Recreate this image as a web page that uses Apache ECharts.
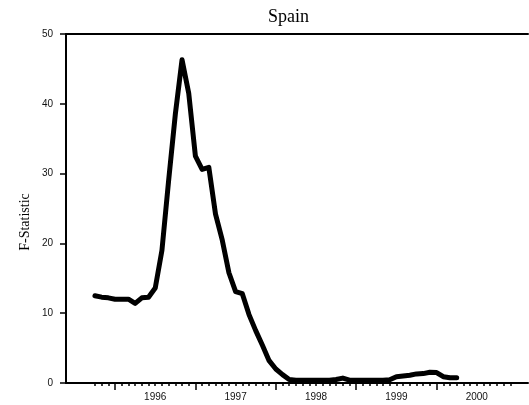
<!DOCTYPE html>
<html>
<head>
<meta charset="utf-8">
<script src="https://cdn.jsdelivr.net/npm/echarts@6/dist/echarts.min.js"></script>
<style>
  html, body { margin: 0; padding: 0; background: #fff; }
  #chart { width: 529px; height: 405px; }
</style>
</head>
<body>
<div id="chart"></div>
<script>
// monthly F-statistic, Oct 1995 .. Apr 2000
var months = [
  '1995-10', '1995-11', '1995-12',
  '1996-01', '1996-02', '1996-03', '1996-04', '1996-05', '1996-06',
  '1996-07', '1996-08', '1996-09', '1996-10', '1996-11', '1996-12',
  '1997-01', '1997-02', '1997-03', '1997-04', '1997-05', '1997-06',
  '1997-07', '1997-08', '1997-09', '1997-10', '1997-11', '1997-12',
  '1998-01', '1998-02', '1998-03', '1998-04', '1998-05', '1998-06',
  '1998-07', '1998-08', '1998-09', '1998-10', '1998-11', '1998-12',
  '1999-01', '1999-02', '1999-03', '1999-04', '1999-05', '1999-06',
  '1999-07', '1999-08', '1999-09', '1999-10', '1999-11', '1999-12',
  '2000-01', '2000-02', '2000-03', '2000-04'
];
var fStat = [
  12.5, 12.3, 12.2,
  12.0, 12.0, 12.0, 11.4, 12.2, 12.3,
  13.6, 19.0, 29.0, 38.5, 46.3, 41.5,
  32.5, 30.6, 30.9, 24.2, 20.5, 15.8,
  13.1, 12.8, 9.8, 7.5, 5.4, 3.2,
  2.0, 1.2, 0.5, 0.4, 0.4, 0.4,
  0.4, 0.4, 0.4, 0.5, 0.7, 0.4,
  0.4, 0.4, 0.4, 0.4, 0.4, 0.45,
  0.9, 1.0, 1.1, 1.3, 1.35, 1.55,
  1.5, 0.9, 0.75, 0.75
];
var yearTicks = [1996, 1997, 1998, 1999, 2000];
var yearLabels = ['1996', '1997', '1998', '1999', '2000'];
var yTicks = [0, 10, 20, 30, 40, 50];

var X_MIN = 1995.39, X_MAX = 2001.137;

function toYear(s) {
  var p = s.split('-');
  return Number(p[0]) + (Number(p[1]) - 1) / 12;
}

var points = [];
for (var i = 0; i < months.length; i++) {
  points.push([toYear(months[i]), fStat[i]]);
}

// labels sit in the middle of each year
var labelPos = yearLabels.map(function (y) { return Number(y) + 0.5; });

// small monthly ticks, Oct 1995 .. Dec 2000
var monthTicks = [];
for (var m = -3; m < 60; m++) {
  if (m % 12 !== 0) monthTicks.push(1996 + m / 12);
}

var chart = echarts.init(document.getElementById('chart'));
chart.setOption({
  animation: false,
  grid: {
    left: 66,
    right: 1,
    top: 34,
    bottom: 22,
    containLabel: false,
    outerBoundsMode: 'none'
  },
  xAxis: [{
    type: 'value',
    position: 'bottom',
    min: X_MIN,
    max: X_MAX,
    axisLine: { lineStyle: { color: '#000', width: 2 } },
    axisTick: {
      customValues: yearTicks,
      length: 7,
      lineStyle: { color: '#000', width: 1.5 }
    },
    axisLabel: {
      customValues: labelPos,
      formatter: function (v) { return String(Math.floor(v)); },
      fontFamily: 'Liberation Sans',
      fontSize: 10,
      color: '#111',
      margin: 9
    },
    splitLine: { show: false }
  }, {
    type: 'value',
    position: 'bottom',
    min: X_MIN,
    max: X_MAX,
    axisLine: { show: false },
    axisTick: {
      customValues: monthTicks,
      length: 3,
      lineStyle: { color: '#000', width: 1.5 }
    },
    axisLabel: { show: false },
    splitLine: { show: false }
  }, {
    type: 'value',
    position: 'top',
    min: X_MIN,
    max: X_MAX,
    axisLine: { show: true, lineStyle: { color: '#000', width: 2 } },
    axisTick: { show: false },
    axisLabel: { show: false },
    splitLine: { show: false }
  }],
  yAxis: {
    type: 'value',
    min: yTicks[0],
    max: yTicks[yTicks.length - 1],
    interval: 10,
    axisLine: { show: true, lineStyle: { color: '#000', width: 2 } },
    axisTick: { show: true, length: 6, lineStyle: { color: '#000', width: 1.5 } },
    axisLabel: {
      fontFamily: 'Liberation Sans',
      fontSize: 10,
      color: '#111',
      margin: 13
    },
    splitLine: { show: false }
  },
  graphic: [{
    type: 'text',
    left: 268,
    top: 8,
    style: {
      text: 'Spain',
      font: '18px "Liberation Serif"',
      fill: '#000'
    }
  }, {
    type: 'text',
    x: 25,
    y: 222,
    rotation: Math.PI / 2,
    style: {
      text: 'F-Statistic',
      font: '14px "Liberation Serif"',
      fill: '#000',
      align: 'center',
      verticalAlign: 'middle'
    }
  }],
  series: [{
    type: 'line',
    xAxisIndex: 0,
    data: points,
    symbol: 'none',
    lineStyle: { color: '#000', width: 5, cap: 'round', join: 'round' }
  }]
});
</script>
</body>
</html>
